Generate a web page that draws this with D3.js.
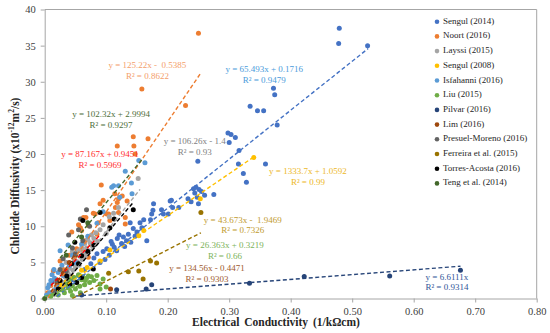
<!DOCTYPE html>
<html><head><meta charset="utf-8">
<script src="https://cdn.jsdelivr.net/npm/d3@7"></script>
<style>
html,body{margin:0;padding:0;background:#fff;}
svg{display:block;font-family:"Palatino Linotype","Book Antiqua","Liberation Serif","DejaVu Serif",serif;}
</style></head>
<body><svg id="c" width="550" height="333"></svg>
<script>
// ---- data ----
const sengul2014 = [[0.479,37.4],[0.478,35.3],[0.525,35.0],[0.372,29.1],[0.374,28.2],[0.334,26.6],[0.346,26.0],[0.356,26.0],[0.378,24.0],[0.298,22.9],[0.303,22.7],[0.310,22.3],[0.300,21.6],[0.316,20.5],[0.249,19.0],[0.315,18.6],[0.359,18.6],[0.323,17.3],[0.328,16.1],[0.242,15.2],[0.246,15.4],[0.251,15.1],[0.244,14.6],[0.255,14.8],[0.260,14.3],[0.248,14.0],[0.238,13.4],[0.275,14.4],[0.250,13.1],[0.233,13.8],[0.204,13.5],[0.208,12.6],[0.193,11.7],[0.201,11.7],[0.177,13.1],[0.174,11.7],[0.218,12.6],[0.206,13.6],[0.190,12.3],[0.176,12.2],[0.172,10.9],[0.161,10.9],[0.158,9.8],[0.155,10.5],[0.139,10.5],[0.144,9.7],[0.136,8.9],[0.128,8.5],[0.133,8.0],[0.166,8.0],[0.118,8.3],[0.125,7.6],[0.110,7.5],[0.140,7.8],[0.117,6.6],[0.101,6.9],[0.105,6.0],[0.098,5.4],[0.090,5.0],[0.085,6.2],[0.075,4.8],[0.065,4.0],[0.055,3.2],[0.045,2.6],[0.030,1.6],[0.020,1.2],[0.012,2.3],[0.010,0.8],[0.108,7.9],[0.113,7.1],[0.121,8.8],[0.130,7.2],[0.147,8.6],[0.150,9.2],[0.095,6.5],[0.080,5.6]];
const noort2016 = [[0.250,36.7],[0.158,29.0],[0.229,26.7],[0.144,22.4],[0.168,22.1],[0.118,21.1],[0.145,21.1],[0.147,20.0],[0.092,15.7],[0.114,14.5],[0.120,13.8],[0.126,14.2],[0.134,13.5],[0.118,13.3],[0.090,13.1],[0.082,11.7],[0.087,10.5],[0.101,11.7],[0.115,12.6],[0.131,11.2],[0.131,10.3],[0.067,11.2],[0.058,9.8],[0.044,9.2],[0.066,8.0],[0.052,6.9],[0.071,5.7],[0.025,5.2],[0.014,3.8],[0.033,3.1],[0.095,13.6],[0.079,11.8],[0.063,11.2],[0.071,10.1],[0.104,11.7],[0.106,10.8],[0.120,11.9],[0.055,10.2],[0.085,8.9],[0.060,9.4],[0.040,6.0],[0.030,4.0],[0.020,2.6],[0.010,1.8],[0.048,5.5],[0.075,7.5],[0.062,6.5],[0.005,0.8]];
const layssi2015 = [[0.025,1.5],[0.030,2.2],[0.033,3.0],[0.036,2.6],[0.038,3.5],[0.040,4.2],[0.042,3.1],[0.044,4.8],[0.046,3.9],[0.048,5.3],[0.050,4.4],[0.051,6.0],[0.053,5.1],[0.055,6.6],[0.056,4.6],[0.058,5.8],[0.060,7.0],[0.061,5.4],[0.063,6.3],[0.065,7.6],[0.066,5.9],[0.068,7.0],[0.070,8.2],[0.072,6.6],[0.074,7.7],[0.076,8.8],[0.078,7.2],[0.080,8.3],[0.083,9.1],[0.086,7.9],[0.090,9.5],[0.095,10.2],[0.100,9.0],[0.105,11.3],[0.112,11.8],[0.120,12.6],[0.152,16.6],[0.035,5.0],[0.045,6.5]];
const sengul2008 = [[0.340,19.5],[0.253,13.8],[0.161,9.4],[0.153,8.7],[0.106,6.7],[0.090,5.2],[0.069,4.3],[0.060,3.9],[0.045,3.0],[0.035,2.3],[0.025,1.9]];
const isfahanni2016 = [[0.153,19.1],[0.163,18.8],[0.131,17.6],[0.141,16.0],[0.112,15.6],[0.120,15.6],[0.142,14.5],[0.109,15.4],[0.122,14.0],[0.025,6.6],[0.015,4.0],[0.010,2.5],[0.005,1.5],[0.008,0.8],[0.020,2.0],[0.030,3.2],[0.040,4.5],[0.050,5.0],[0.060,7.5],[0.070,8.6],[0.085,10.4],[0.095,12.0],[0.038,7.4],[0.012,3.3],[0.018,1.4],[0.003,0.5],[0.007,1.9],[0.016,2.8],[0.022,3.6],[0.028,4.6],[0.045,6.0]];
const liu2015 = [[0.010,0.3],[0.015,0.6],[0.022,0.5],[0.028,1.2],[0.032,0.8],[0.035,2.0],[0.038,1.5],[0.040,2.6],[0.042,1.0],[0.045,1.8],[0.045,0.4],[0.048,2.9],[0.050,1.3],[0.052,2.3],[0.055,3.3],[0.057,1.7],[0.058,0.8],[0.058,3.1],[0.060,2.6],[0.062,3.0],[0.065,1.9],[0.066,2.5],[0.068,2.8],[0.071,3.1],[0.073,2.2],[0.076,3.0],[0.080,2.5],[0.085,3.2],[0.090,1.3],[0.090,2.0],[0.095,2.7],[0.100,1.6]];
const pilvar2016 = [[0.060,0.5],[0.117,1.2],[0.165,1.3],[0.174,1.9],[0.333,2.1],[0.422,3.05],[0.561,3.1],[0.676,3.9]];
const lim2016 = [[0.107,1.3],[0.020,2.2],[0.030,3.5],[0.040,5.0],[0.050,6.0]];
const presuelMoreno2016 = [[0.039,8.8],[0.068,12.3],[0.058,11.0],[0.030,5.5],[0.045,7.0],[0.055,9.5],[0.025,4.0],[0.050,6.2],[0.062,8.0],[0.035,3.8],[0.020,2.5],[0.073,10.0],[0.015,1.0]];
const ferreira2015 = [[0.254,11.9],[0.172,5.2],[0.182,4.9],[0.153,3.8],[0.136,3.7],[0.160,2.7],[0.104,3.5]];
const torresAcosta2016 = [[0.144,12.3],[0.113,11.0],[0.090,11.9],[0.062,10.8],[0.106,9.8],[0.049,7.8],[0.060,5.9],[0.044,4.8],[0.055,4.8],[0.025,2.5],[0.036,3.1],[0.022,1.3],[0.060,2.9],[0.052,2.2],[0.041,2.0],[0.079,4.1],[0.070,6.5],[0.080,7.4]];
const teng2014 = [[0.000,0.0],[0.035,6.0],[0.060,8.5],[0.070,10.5]];

const seriesNames = ["Sengul (2014)","Noort (2016)","Layssi (2015)","Sengul (2008)","Isfahanni (2016)","Liu (2015)","Pilvar (2016)","Lim (2016)","Presuel-Moreno (2016)","Ferreira et al. (2015)","Torres-Acosta (2016)","Teng et al. (2014)"];
const seriesData = [sengul2014,noort2016,layssi2015,sengul2008,isfahanni2016,liu2015,pilvar2016,lim2016,presuelMoreno2016,ferreira2015,torresAcosta2016,teng2014];
const seriesColors = ["#4472C4","#ED7D31","#A5A5A5","#FFC000","#5B9BD5","#70AD47","#264478","#9E480E","#636363","#997300","#000000","#43682B"];

// trendlines: [x0, y0, x1, y1] in data units
const trendEnds = [[0.020,0.3,0.526,34.6],[0.005,0.1,0.253,31.1],[0.015,0.2,0.155,15.1],[0.020,1.0,0.340,19.6],[0.010,1.8,0.090,8.8],[0.000,0.3,0.090,2.7],[0.050,0.33,0.676,4.47],[0.010,0.9,0.050,6.3],[0.045,0.0,0.254,9.1],[0.015,0.4,0.145,13.4],[0.025,5.6,0.160,19.4]];
const trendColors = ["#4472C4","#ED7D31","#A5A5A5","#FFC000","#FF0000","#70AD47","#264478","#9E480E","#997300","#000000","#43682B"];

const eqTexts = ["y = 125.22x -  0.5385","y = 65.493x + 0.1716","y = 102.32x + 2.9994","y = 106.26x - 1.4","y = 87.167x + 0.9451","y = 1333.7x + 1.0592","y = 43.673x -  1.9469","y = 26.363x + 0.3219","y = 134.56x - 0.4471","y = 6.6111x"];
const r2Texts = ["R² = 0.8622","R² = 0.9479","R² = 0.9297","R² = 0.93","R² = 0.5969","R² = 0.99","R² = 0.7326","R² = 0.66","R² = 0.9303","R² = 0.9314"];
const eqAnchors = [[0.167,32.2],[0.357,31.6],[0.108,25.4],[0.244,21.6],[0.090,19.8],[0.428,17.55],[0.322,10.77],[0.293,7.27],[0.264,4.08],[0.654,2.88]];
const eqColors = ["#F4A06A","#4A9BDB","#4E6E3A","#7F7F7F","#FF2D2D","#EDB828","#BF9B30","#7CB35A","#9E5A2E","#2F5597"];

const xTicks = [0,0.1,0.2,0.3,0.4,0.5,0.6,0.7,0.8];
const yTicks = [0,5,10,15,20,25,30,35,40];

// ---- drawing ----
const svg = d3.select("#c");
const x = d3.scaleLinear().domain([0,0.8]).range([44.7,536.7]);
const y = d3.scaleLinear().domain([0,40]).range([298.5,9.5]);
const axisColor = "#A6A6A6";

svg.append("line").attr("x1",x(0)).attr("x2",x(0.8)).attr("y1",y(40)).attr("y2",y(40)).attr("stroke",axisColor);
svg.append("line").attr("x1",x(0.8)).attr("x2",x(0.8)).attr("y1",y(40)).attr("y2",y(0)).attr("stroke",axisColor);

const xAxis = svg.append("g").attr("transform",`translate(0,${y(0)})`)
  .call(d3.axisBottom(x).tickValues(xTicks).tickFormat(d3.format(".2f")).tickSizeInner(4).tickSizeOuter(0).tickPadding(5));
const yAxis = svg.append("g").attr("transform",`translate(${x(0)},0)`)
  .call(d3.axisLeft(y).tickValues(yTicks).tickFormat(d3.format("d")).tickSizeInner(4).tickSizeOuter(0).tickPadding(5));
[xAxis,yAxis].forEach(g=>{
  g.select(".domain").attr("stroke",axisColor);
  g.selectAll(".tick line").attr("stroke",axisColor);
  g.selectAll(".tick text").attr("fill","#404040").attr("font-size","10.5px")
   .attr("font-family",'"Palatino Linotype","Book Antiqua","Liberation Serif",serif');
});

seriesData.forEach((data,i)=>{
  svg.append("g").selectAll("circle").data(data).join("circle")
    .attr("cx",d=>x(d[0])).attr("cy",d=>y(d[1])).attr("r",2.5)
    .attr("fill",seriesColors[i]);
});

svg.append("g").selectAll("line").data(trendEnds).join("line")
  .attr("x1",d=>x(d[0])).attr("y1",d=>y(d[1])).attr("x2",d=>x(d[2])).attr("y2",d=>y(d[3]))
  .attr("stroke",(d,i)=>trendColors[i]).attr("stroke-width",1.4).attr("stroke-dasharray","4,2.5");

const lab = svg.append("g").attr("font-size","9px");
eqAnchors.forEach((a,i)=>{
  const t = lab.append("text").attr("x",x(a[0])).attr("y",y(a[1])).attr("text-anchor","middle")
    .attr("dominant-baseline","middle").attr("fill",eqColors[i]).attr("xml:space","preserve");
  t.append("tspan").attr("x",x(a[0])).text(eqTexts[i]);
  t.append("tspan").attr("x",x(a[0])).attr("dy","1.2em").text(r2Texts[i]);
});

const leg = svg.append("g").attr("font-size","9px");
seriesNames.forEach((n,i)=>{
  const yy = 21.7 + i*14.7;
  leg.append("circle").attr("cx",437).attr("cy",yy).attr("r",2.3).attr("fill",seriesColors[i]);
  leg.append("text").attr("x",443).attr("y",yy).attr("dominant-baseline","middle").attr("fill","#262626").text(n);
});

svg.append("text").attr("x",276).attr("y",323).attr("text-anchor","middle").attr("dominant-baseline","middle")
  .attr("font-weight","bold").attr("font-size","11.5px").attr("fill","#262626").attr("word-spacing","2px")
  .text("Electrical Conductivity (1/kΩcm)");
const yt = svg.append("text").attr("transform","translate(16,176) rotate(-90)").attr("text-anchor","middle")
  .attr("dominant-baseline","middle").attr("font-weight","bold").attr("font-size","11.5px").attr("fill","#262626");
yt.append("tspan").text("Chloride Diffusivity (x10");
yt.append("tspan").attr("font-size","7.5px").attr("dy","-4").text("-12");
yt.append("tspan").attr("dy","4").text("m");
yt.append("tspan").attr("font-size","7.5px").attr("dy","-4").text("2");
yt.append("tspan").attr("dy","4").text("/s)");
</script></body></html>
